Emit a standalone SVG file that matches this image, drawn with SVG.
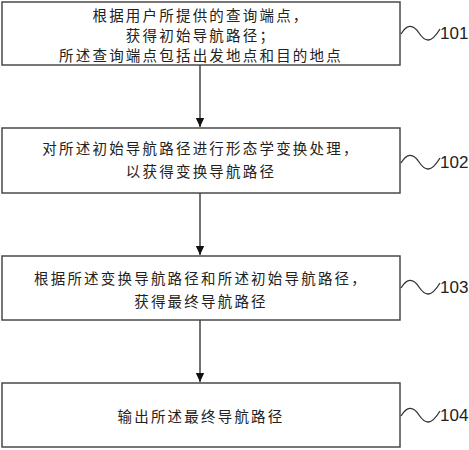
<svg xmlns="http://www.w3.org/2000/svg" width="469" height="450" viewBox="0 0 469 450">
<style>
.box{fill:#fff;stroke:#4a4a4a;stroke-width:1.5}
.t{font-family:"Noto Sans CJK SC","Noto Sans CJK JP",sans-serif;font-size:14.5px;letter-spacing:2.2px;fill:#222;text-anchor:middle;dominant-baseline:central}
.lbl{font-family:"Liberation Sans",Arial,sans-serif;font-size:17px;fill:#222;dominant-baseline:central}
.wave{fill:none;stroke:#333;stroke-width:1.3}
.conn{stroke:#444;stroke-width:1.5;fill:none}
</style>
<defs>
<marker id="ah" markerWidth="10" markerHeight="10" refX="9" refY="5" orient="auto" markerUnits="userSpaceOnUse">
<path d="M0,0.8 L9,5 L0,9.2 Z" fill="#111"/>
</marker>
</defs>
<rect width="469" height="450" fill="#fff"/>
<g id="connectors">
<line class="conn" x1="200" y1="65" x2="200" y2="127" marker-end="url(#ah)"/>
<line class="conn" x1="200" y1="193" x2="200" y2="255" marker-end="url(#ah)"/>
<line class="conn" x1="200" y1="320" x2="200" y2="382" marker-end="url(#ah)"/>
</g>
<g id="n101">
<rect class="box" x="2" y="2" width="398" height="63"/>
<text class="t" x="201" y="14">根据用户所提供的查询端点，</text>
<text class="t" x="201" y="34">获得初始导航路径；</text>
<text class="t" x="201" y="54">所述查询端点包括出发地点和目的地点</text>
<path class="wave" d="M401,34 C407,24 413,24 419,33 C425,42 431,44 440,29"/>
<text class="lbl" x="440" y="33">101</text>
</g>
<g id="n102">
<rect class="box" x="2" y="128" width="398" height="65"/>
<text class="t" x="201" y="147">对所述初始导航路径进行形态学变换处理，</text>
<text class="t" x="201" y="170">以获得变换导航路径</text>
<path class="wave" d="M401,163 C407,153 413,153 419,162 C425,171 431,173 440,158"/>
<text class="lbl" x="440" y="162">102</text>
</g>
<g id="n103">
<rect class="box" x="2" y="256" width="398" height="64"/>
<text class="t" x="201" y="277">根据所述变换导航路径和所述初始导航路径，</text>
<text class="t" x="201" y="300">获得最终导航路径</text>
<path class="wave" d="M401,288 C407,278 413,278 419,287 C425,296 431,298 440,283"/>
<text class="lbl" x="440" y="287">103</text>
</g>
<g id="n104">
<rect class="box" x="2" y="383" width="398" height="64"/>
<text class="t" x="201" y="415">输出所述最终导航路径</text>
<path class="wave" d="M401,416 C407,406 413,406 419,415 C425,424 431,426 440,411"/>
<text class="lbl" x="440" y="415">104</text>
</g>
</svg>
